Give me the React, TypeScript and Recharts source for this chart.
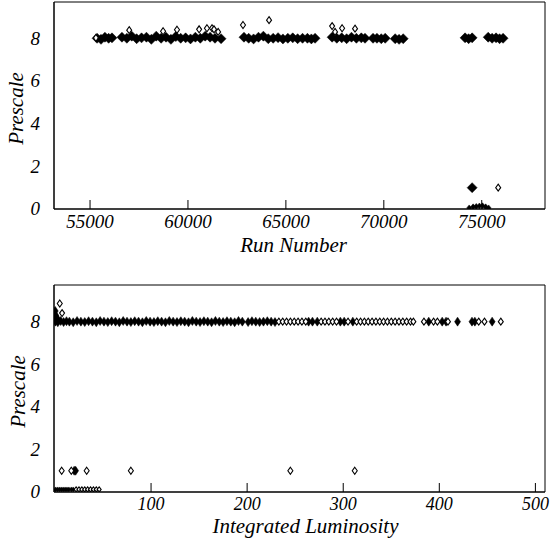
import React from 'react';
import { ScatterChart, Scatter, XAxis, YAxis, ReferenceArea, Label } from 'recharts';

// top panel: prescale vs run number
const runBand: [number, number][] = [
  [55360, 8.0], [55560, 7.95], [55760, 8.05], [55950, 8.0], [56120, 8.02],
  [56630, 8.05], [56880, 8.0], [57130, 8.1], [57380, 7.98], [57630, 8.02], [57880, 8.05], [58130, 7.95],
  [58380, 8.1], [58630, 8.0], [58880, 8.05], [59130, 7.95], [59380, 8.08], [59630, 8.0], [59880, 8.02],
  [60130, 7.97], [60380, 8.05], [60630, 8.0], [60880, 8.1], [61130, 8.05], [61380, 8.0], [61690, 7.98],
  [62860, 8.05], [63100, 8.0], [63350, 7.97], [63600, 8.05], [63850, 8.1], [64100, 7.98], [64350, 8.0],
  [64600, 8.03], [64850, 7.97], [65100, 8.0], [65350, 8.02], [65600, 7.98], [65850, 8.0], [66100, 8.0],
  [66300, 7.97], [66490, 8.0],
  [67360, 8.05], [67600, 8.0], [67850, 8.02], [68100, 7.98], [68350, 8.05], [68600, 8.0], [68850, 8.02], [69040, 8.0],
  [69450, 8.0], [69650, 8.0], [69870, 7.98], [70070, 8.0],
  [70580, 7.98], [70780, 7.95], [70990, 7.98],
  [74150, 8.02], [74330, 7.98], [74510, 8.02],
  [75330, 8.05], [75530, 8.0], [75730, 8.02], [75910, 7.98], [76090, 8.0],
  [74510, 1.0],
];
const runOutliers: [number, number][] = [
  [55300, 8.02], [57000, 8.38], [58730, 8.33], [59440, 8.4], [60570, 8.42], [60970, 8.47],
  [61230, 8.47], [61330, 8.42], [61540, 8.3], [62810, 8.62], [64140, 8.85], [67360, 8.57],
  [67510, 8.3], [67870, 8.47], [68530, 8.45], [75840, 1.0],
];
const runLow: [number, number][] = [
  [74360, 0.05], [74560, 0.1], [74720, 0.12], [74880, 0.14], [75040, 0.15], [75200, 0.1], [75350, 0.05],
];
const runTicks = [55000, 60000, 65000, 70000, 75000];

// bottom panel: prescale vs integrated luminosity
const lumiBand: [number, number][] = [
  [0.3, 8.5], [0.8, 8.3], [1.5, 8.2], [3, 8.1],
  [0.5, 8.0], [3, 7.97], [6, 8.03], [9, 7.98], [12, 8.02], [15, 8.0], [19, 7.97], [23, 8.03], [27, 8.0],
  [31, 7.98], [35, 8.02], [39, 8.0], [43, 7.97], [47, 8.03], [51, 8.0], [55, 7.98], [59, 8.02], [63, 8.0],
  [67, 7.97], [71, 8.03], [75, 8.0], [79, 7.98], [83, 8.02], [87, 8.0], [91, 7.97], [95, 8.03], [99, 8.0],
  [103, 7.98], [107, 8.02], [111, 8.0], [115, 7.97], [119, 8.03], [123, 8.0], [127, 7.98], [131, 8.02],
  [135, 8.0], [139, 7.97], [143, 8.03], [147, 8.0], [151, 7.98], [155, 8.02], [159, 8.0], [163, 7.97],
  [167, 8.03], [171, 8.0], [175, 7.98], [179, 8.02], [183, 8.0], [187, 7.97], [191, 8.03], [195, 8.0],
  [201, 7.98], [205, 8.02], [209, 8.0], [213, 7.98], [217, 8.0], [221, 8.02], [225, 8.0], [229, 7.98],
  [264, 8.0], [268, 8.0], [273, 8.0], [297, 8.0], [301, 8.0], [310, 8.0],
  [389, 8.0], [403, 8.0], [407, 8.0], [419, 8.0], [434, 8.0], [437, 8.0], [455, 8.0],
  [20, 1.0], [21.5, 1.0],
];
const lumiChain: [number, number][] = [
  [233, 8.0], [237, 8.0], [241, 8.0], [245, 8.0], [249, 8.0], [253, 8.0], [257, 8.0], [261, 8.0],
  [277, 8.0], [281, 8.0], [285, 8.0], [289, 8.0], [293, 8.0], [305, 8.0], [314, 8.0], [318, 8.0],
  [322, 8.0], [326, 8.0], [330, 8.0], [334, 8.0], [338, 8.0], [342, 8.0], [346, 8.0], [350, 8.0],
  [354, 8.0], [358, 8.0], [362, 8.0], [366, 8.0], [370, 8.0], [373, 8.0],
  [384, 8.0], [394, 8.0], [398, 8.0], [409, 8.0], [441, 8.0], [447, 8.0], [464, 8.0],
];
const lumiOutliers: [number, number][] = [
  [5, 8.85], [7.4, 8.4], [7, 1.0], [17, 1.0], [33, 1.0], [79, 1.0], [245, 1.0], [312, 1.0],
];
const lumiLowFilled: [number, number][] = [
  [0.5, 0.12], [2.5, 0.12], [4.5, 0.12], [6.5, 0.12], [8.5, 0.12], [10.5, 0.12], [12.5, 0.12], [14.5, 0.12], [17, 0.12], [19, 0.12],
];
const lumiLowOpen: [number, number][] = [
  [22, 0.12], [25, 0.12], [28, 0.12], [31, 0.12], [34, 0.12], [37, 0.12], [40, 0.12], [43, 0.12], [46, 0.12],
];
const lumiTicks = [100, 200, 300, 400, 500];
const prescaleTicks = [0, 2, 4, 6, 8];

const toPoints = (rows: [number, number][]) => rows.map(([x, y]) => ({ x, y }));

const diamond = (w: number, h: number, filled: boolean) => (props: any) => {
  const { cx, cy } = props;
  return (
    <path
      d={`M${cx},${cy - h / 2}L${cx + w / 2},${cy}L${cx},${cy + h / 2}L${cx - w / 2},${cy}Z`}
      fill={filled ? '#000' : '#fff'}
      stroke="#000"
      strokeWidth={filled ? 0.5 : 1.1}
    />
  );
};

// inline style, so nothing in a stylesheet can swap the face
const serifStyle = (size: number) => ({
  fontFamily: "'Liberation Serif', serif",
  fontStyle: 'italic' as const,
  fontSize: size,
  fill: '#000',
});

const xTick = (size: number) => (p: any) => (
  <text x={p.x} y={p.y} dy="0.71em" textAnchor="middle" style={serifStyle(size)}>
    {p.payload.value}
  </text>
);

const yTick = (p: any) => (
  <text x={p.x} y={p.y} dy="0.34em" textAnchor="end" style={serifStyle(19)}>
    {p.payload.value}
  </text>
);

const xTitle = (value: string, offset: number, dx: number) => (props: any) => {
  const { x, y, width, height } = props.viewBox;
  return (
    <text x={x + width / 2 + dx} y={y + height - offset} textAnchor="middle" style={serifStyle(21)}>
      {value}
    </text>
  );
};

const yTitle = (value: string, left: number, dy: number) => (props: any) => {
  const { x, y, height } = props.viewBox;
  const cx = x + left;
  const cy = y + height / 2 + dy;
  return (
    <text x={cx} y={cy} dy="0.3em" transform={`rotate(-90 ${cx} ${cy})`} textAnchor="middle" style={serifStyle(21)}>
      {value}
    </text>
  );
};

const RUN_DOMAIN: [number, number] = [53160, 78230];
const LUMI_DOMAIN: [number, number] = [-1, 510];

export default function App() {
  return (
    <div style={{ position: 'absolute', left: 0, top: 0, width: 550, height: 541, background: '#fff' }}>
      <ScatterChart width={550} height={260} margin={{ top: 2, right: 5, bottom: 0, left: 0 }}>
        <XAxis
          type="number"
          dataKey="x"
          domain={RUN_DOMAIN}
          ticks={runTicks}
          interval={0}
          allowDataOverflow
          height={51}
          tickSize={-9}
          tickMargin={15}
          axisLine={{ stroke: '#000' }}
          tickLine={{ stroke: '#000' }}
          tick={xTick(19)}
        >
          <Label content={xTitle('Run Number', 8, -6)} />
        </XAxis>
        <YAxis
          type="number"
          dataKey="y"
          domain={[0, 9.7]}
          ticks={prescaleTicks}
          interval={0}
          allowDataOverflow
          width={54}
          tickLine={false}
          tickSize={0}
          tickMargin={14}
          axisLine={{ stroke: '#000' }}
          tick={yTick}
        >
          <Label content={yTitle('Prescale', 17, 3)} />
        </YAxis>
        <ReferenceArea x1={RUN_DOMAIN[0]} x2={RUN_DOMAIN[1]} y1={0} y2={9.7} fill="none" stroke="#000" />
        <Scatter data={toPoints(runBand)} shape={diamond(10, 10, true)} isAnimationActive={false} />
        <Scatter data={toPoints(runLow)} shape={diamond(5, 6, true)} isAnimationActive={false} />
        <Scatter data={toPoints(runOutliers)} shape={diamond(5, 7, false)} isAnimationActive={false} />
      </ScatterChart>
      <ScatterChart width={550} height={281} margin={{ top: 25, right: 5, bottom: 0, left: 0 }}>
        <XAxis
          type="number"
          dataKey="x"
          domain={LUMI_DOMAIN}
          ticks={lumiTicks}
          interval={0}
          allowDataOverflow
          height={49}
          tickSize={-9}
          tickMargin={14}
          axisLine={{ stroke: '#000' }}
          tickLine={{ stroke: '#000' }}
          tick={xTick(18)}
        >
          <Label content={xTitle('Integrated Luminosity', 8, 6)} />
        </XAxis>
        <YAxis
          type="number"
          dataKey="y"
          domain={[0, 9.72]}
          ticks={prescaleTicks}
          interval={0}
          allowDataOverflow
          width={54}
          tickLine={false}
          tickSize={0}
          tickMargin={14}
          axisLine={{ stroke: '#000' }}
          tick={yTick}
        >
          <Label content={yTitle('Prescale', 19, 3)} />
        </YAxis>
        <ReferenceArea x1={LUMI_DOMAIN[0]} x2={LUMI_DOMAIN[1]} y1={0} y2={9.72} fill="none" stroke="#000" />
        <Scatter data={toPoints(lumiBand)} shape={diamond(6, 9, true)} isAnimationActive={false} />
        <Scatter data={toPoints(lumiChain)} shape={diamond(5, 7, false)} isAnimationActive={false} />
        <Scatter data={toPoints(lumiLowFilled)} shape={diamond(4, 5, true)} isAnimationActive={false} />
        <Scatter data={toPoints(lumiLowOpen)} shape={diamond(4, 5, false)} isAnimationActive={false} />
        <Scatter data={toPoints(lumiOutliers)} shape={diamond(5, 7, false)} isAnimationActive={false} />
      </ScatterChart>
    </div>
  );
}
